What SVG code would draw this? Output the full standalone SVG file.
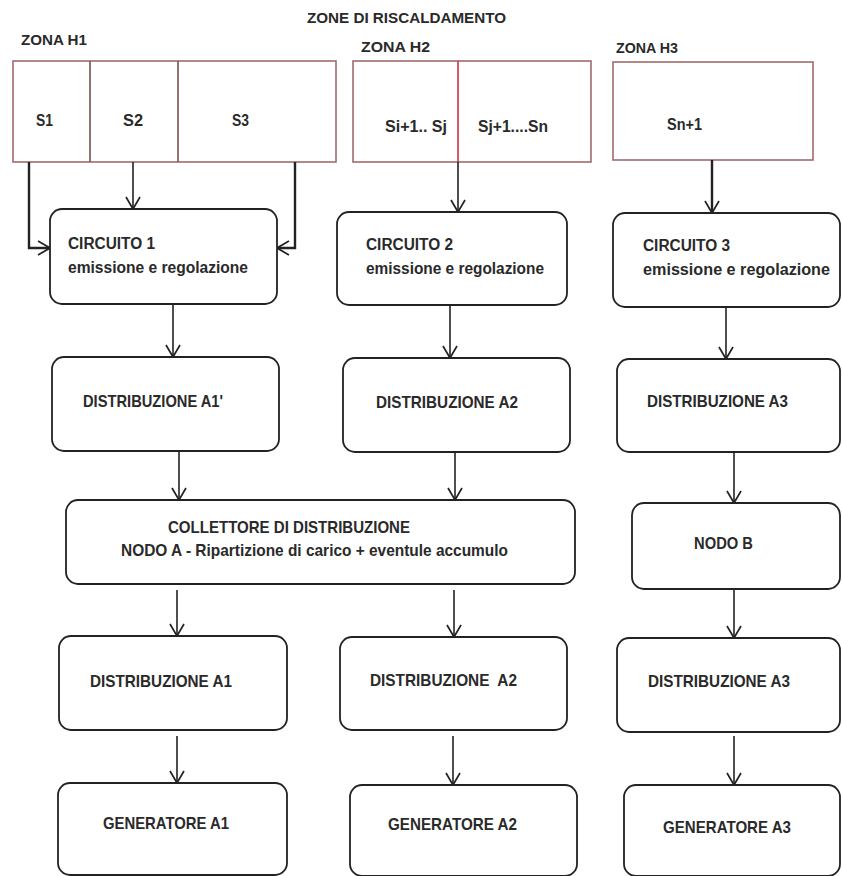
<svg xmlns="http://www.w3.org/2000/svg" width="842" height="876" viewBox="0 0 842 876">
<style>
  .t { font-family: "Liberation Sans Narrow", "Liberation Sans", Arial, sans-serif; font-weight: bold; fill: #2a2a2a; }
  .h { font-size: 15px; }
  .s { font-size: 16px; }
  .b { font-size: 17px; }
  .zone { fill: #fff; stroke: #a06b6b; stroke-width: 1.6; }
  .div { stroke: #7a5050; stroke-width: 1.6; }
  .divr { stroke: #cc3344; stroke-width: 1.6; }
  .box { fill: #fff; stroke: #222; stroke-width: 1.8; }
  .con { fill: none; stroke: #222; stroke-width: 1.6; marker-end: url(#arr); }
  .thick { stroke-width: 2.4; }
</style>
<defs>
  <marker id="arr" markerWidth="14" markerHeight="16" refX="13" refY="8" orient="auto" markerUnits="userSpaceOnUse" viewBox="0 0 14 16">
    <path d="M1,1 L13,8 L1,15" fill="none" stroke="#222" stroke-width="1.7"/>
  </marker>
</defs>
<rect width="842" height="876" fill="#fff"/>

<g id="titles">
  <text class="t h" x="307" y="23" textLength="199" lengthAdjust="spacingAndGlyphs">ZONE DI RISCALDAMENTO</text>
  <text class="t h" x="21" y="45" textLength="66" lengthAdjust="spacingAndGlyphs">ZONA H1</text>
  <text class="t h" x="361" y="52" textLength="69" lengthAdjust="spacingAndGlyphs">ZONA H2</text>
  <text class="t h" x="616" y="53" textLength="62" lengthAdjust="spacingAndGlyphs">ZONA H3</text>
</g>

<g id="zona-h1">
  <rect class="zone" x="13" y="61" width="323" height="101"/>
  <line class="div" x1="90" y1="61" x2="90" y2="162"/>
  <line class="div" x1="178" y1="61" x2="178" y2="162"/>
  <text class="t s" x="36" y="126" textLength="17" lengthAdjust="spacingAndGlyphs">S1</text>
  <text class="t s" x="123" y="126" textLength="20" lengthAdjust="spacingAndGlyphs">S2</text>
  <text class="t s" x="232" y="126" textLength="17" lengthAdjust="spacingAndGlyphs">S3</text>
</g>

<g id="zona-h2">
  <rect class="zone" x="353" y="61" width="238" height="101"/>
  <line class="divr" x1="458" y1="61" x2="458" y2="162"/>
  <text class="t s" x="385" y="132" textLength="62" lengthAdjust="spacingAndGlyphs">Si+1.. Sj</text>
  <text class="t s" x="478" y="132" textLength="70" lengthAdjust="spacingAndGlyphs">Sj+1....Sn</text>
</g>

<g id="zona-h3">
  <rect class="zone" x="613" y="62" width="200" height="98"/>
  <text class="t s" x="667" y="130" textLength="35" lengthAdjust="spacingAndGlyphs">Sn+1</text>
</g>

<g id="connectors">
  <path class="con thick" d="M29,162 V248 H50"/>
  <path class="con" d="M133,162 V209"/>
  <path class="con thick" d="M295,162 V248 H277"/>
  <path class="con" d="M458,162 V212"/>
  <path class="con thick" d="M712,160 V213"/>
  <path class="con" d="M173,304 V357"/>
  <path class="con" d="M450,305 V358"/>
  <path class="con" d="M726,307 V359"/>
  <path class="con" d="M179,451 V500"/>
  <path class="con" d="M455,452 V500"/>
  <path class="con" d="M734,452 V503"/>
  <path class="con" d="M177,590 V636"/>
  <path class="con" d="M454,590 V637"/>
  <path class="con" d="M734,590 V638"/>
  <path class="con" d="M177,736 V783"/>
  <path class="con" d="M453,736 V785"/>
  <path class="con" d="M734,736 V785"/>
</g>

<g id="circuito-1">
  <rect class="box" x="50" y="209" width="227" height="95" rx="12"/>
  <text class="t s" x="68" y="249" textLength="87" lengthAdjust="spacingAndGlyphs">CIRCUITO 1</text>
  <text class="t s" x="68" y="273" textLength="180" lengthAdjust="spacingAndGlyphs">emissione e regolazione</text>
</g>
<g id="circuito-2">
  <rect class="box" x="337" y="212" width="230" height="93" rx="12"/>
  <text class="t s" x="366" y="250" textLength="87" lengthAdjust="spacingAndGlyphs">CIRCUITO 2</text>
  <text class="t s" x="366" y="274" textLength="178" lengthAdjust="spacingAndGlyphs">emissione e regolazione</text>
</g>
<g id="circuito-3">
  <rect class="box" x="613" y="213" width="227" height="94" rx="12"/>
  <text class="t s" x="643" y="251" textLength="87" lengthAdjust="spacingAndGlyphs">CIRCUITO 3</text>
  <text class="t s" x="643" y="275" textLength="187" lengthAdjust="spacingAndGlyphs">emissione e regolazione</text>
</g>

<g id="distribuzione-a1p">
  <rect class="box" x="52" y="357" width="227" height="94" rx="12"/>
  <text class="t b" x="83" y="407" textLength="140" lengthAdjust="spacingAndGlyphs">DISTRIBUZIONE A1'</text>
</g>
<g id="distribuzione-a2-top">
  <rect class="box" x="343" y="358" width="227" height="94" rx="12"/>
  <text class="t b" x="376" y="408" textLength="142" lengthAdjust="spacingAndGlyphs">DISTRIBUZIONE A2</text>
</g>
<g id="distribuzione-a3-top">
  <rect class="box" x="617" y="359" width="223" height="93" rx="12"/>
  <text class="t b" x="647" y="407" textLength="141" lengthAdjust="spacingAndGlyphs">DISTRIBUZIONE A3</text>
</g>

<g id="collettore">
  <rect class="box" x="66" y="500" width="509" height="84" rx="12"/>
  <text class="t b" x="168" y="533" textLength="242" lengthAdjust="spacingAndGlyphs">COLLETTORE DI DISTRIBUZIONE</text>
  <text class="t b" x="121" y="556" textLength="387" lengthAdjust="spacingAndGlyphs">NODO A - Ripartizione di carico + eventule accumulo</text>
</g>
<g id="nodo-b">
  <rect class="box" x="632" y="503" width="208" height="86" rx="12"/>
  <text class="t b" x="694" y="549" textLength="59" lengthAdjust="spacingAndGlyphs">NODO B</text>
</g>

<g id="distribuzione-a1">
  <rect class="box" x="59" y="636" width="228" height="94" rx="12"/>
  <text class="t b" x="90" y="687" textLength="142" lengthAdjust="spacingAndGlyphs">DISTRIBUZIONE A1</text>
</g>
<g id="distribuzione-a2">
  <rect class="box" x="340" y="637" width="227" height="93" rx="12"/>
  <text class="t b" x="370" y="686" textLength="147" lengthAdjust="spacingAndGlyphs" xml:space="preserve">DISTRIBUZIONE  A2</text>
</g>
<g id="distribuzione-a3">
  <rect class="box" x="617" y="638" width="223" height="94" rx="12"/>
  <text class="t b" x="648" y="687" textLength="142" lengthAdjust="spacingAndGlyphs">DISTRIBUZIONE A3</text>
</g>

<g id="generatore-a1">
  <rect class="box" x="58" y="783" width="229" height="92" rx="12"/>
  <text class="t b" x="103" y="829" textLength="126" lengthAdjust="spacingAndGlyphs">GENERATORE A1</text>
</g>
<g id="generatore-a2">
  <rect class="box" x="350" y="785" width="227" height="91" rx="12"/>
  <text class="t b" x="388" y="830" textLength="129" lengthAdjust="spacingAndGlyphs">GENERATORE A2</text>
</g>
<g id="generatore-a3">
  <rect class="box" x="624" y="785" width="216" height="91" rx="12"/>
  <text class="t b" x="663" y="833" textLength="128" lengthAdjust="spacingAndGlyphs">GENERATORE A3</text>
</g>
</svg>
